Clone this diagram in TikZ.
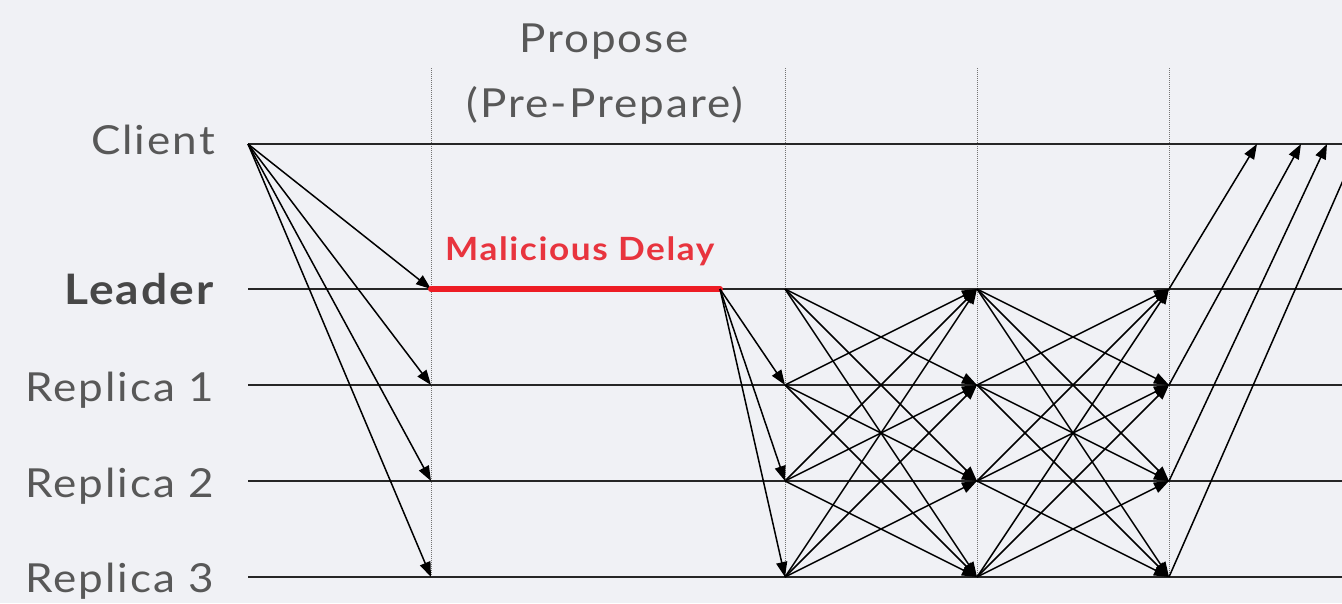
\documentclass[tikz,border=0pt]{standalone}
\usepackage{fontspec}
\setmainfont{Lato}[FakeStretch=1.1, LetterSpace=5]
\usetikzlibrary{arrows.meta}
\definecolor{bg}{RGB}{240,241,245}
\definecolor{txt}{RGB}{88,88,88}
\definecolor{maltext}{RGB}{232,52,62}
\definecolor{delayred}{RGB}{237,28,36}
\begin{document}
\begin{tikzpicture}[x=1pt,y=-1pt,
  lifeline/.style={draw=black!85, line width=1.5pt},
  phase/.style={draw=black!55, line width=0.7pt, dash pattern=on 1pt off 1pt},
  msg/.style={draw=black, line width=1.5pt, -{Triangle[length=15pt,width=11pt]}},
  lbl/.style={font=\fontsize{40}{46}\selectfont, text=txt, anchor=base east, inner sep=0pt},
  head/.style={font=\fontsize{40}{46}\selectfont, text=txt, anchor=base, inner sep=0pt},
]
\fill[bg] (0,0) rectangle (1342,603);
\useasboundingbox (0,0) rectangle (1342,603);
\clip (0,0) rectangle (1342,603);

% rows
\foreach \n/\y in {cl/144, 0/289, 1/385, 2/481, 3/577}{
  \coordinate (s-\n) at (248,\y);
  \coordinate (e-\n) at (1342,\y);
  \coordinate (P-\n) at (431,\y);
  \coordinate (A-\n) at (785,\y);
  \coordinate (B-\n) at (977,\y);
  \coordinate (C-\n) at (1169,\y);
}
\coordinate (D) at (720,289);
\coordinate (R-0) at (1257,144);
\coordinate (R-1) at (1301,144);
\coordinate (R-2) at (1327,144);
\coordinate (R-3) at (1359,144);

% phase separators
\foreach \x/\n in {431/p, 785/a, 977/b, 1169/c}{
  \coordinate (top-\n) at (\x,68);
  \coordinate (bot-\n) at (\x,577);
  \draw[phase] (top-\n) -- (bot-\n);
}

% lifelines
\foreach \n in {cl,0,1,2,3}{
  \draw[lifeline] (s-\n) -- (e-\n);
}

% labels
\node[lbl] (lclient) at (215,154) {Client};
\node[lbl, font=\fontsize{42}{46}\selectfont\bfseries, text=black!72] (lleader) at (214,304) {Leader};
\node[lbl] (lr1) at (214,401) {Replica 1};
\node[lbl] (lr2) at (214,497) {Replica 2};
\node[lbl] (lr3) at (214,592) {Replica 3};
\node[head] (hprop) at (604,52) {Propose};
\node[head] (hpre) at (605,117) {(Pre-Prepare)};
\node[font=\fontsize{32}{36}\selectfont\bfseries, text=maltext, anchor=base west, inner sep=0pt] (mal) at (445,260) {Malicious Delay};

% request
\foreach \n in {0,1,2,3}{
  \draw[msg] (s-cl) -- (P-\n);
}

% malicious delay
\draw[delayred, line width=6pt, line cap=round] (P-0) -- (D);

% pre-prepare
\foreach \n in {1,2,3}{
  \draw[msg] (D) -- (A-\n);
}

% prepare and commit
\foreach \i in {0,1,2,3}{
  \foreach \j in {0,1,2,3}{
    \ifnum\i=\j\else
      \draw[msg] (A-\i) -- (B-\j);
      \draw[msg] (B-\i) -- (C-\j);
    \fi
  }
}

% replies
\foreach \n in {0,1,2,3}{
  \draw[msg] (C-\n) -- (R-\n);
}
\end{tikzpicture}
\end{document}
